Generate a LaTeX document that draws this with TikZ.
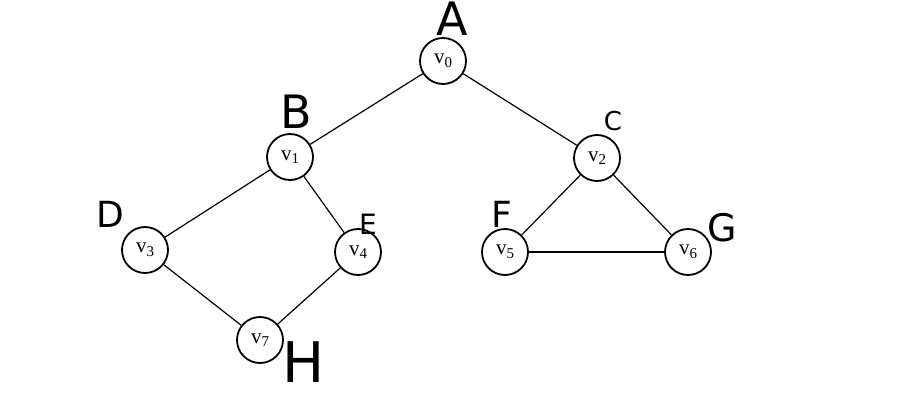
\documentclass[tikz,border=0pt]{standalone}
\usepackage{fontspec}
\setmainfont{Liberation Serif}
\newfontfamily\handfont{DejaVu Sans}
\newcommand{\vsub}[1]{v\raisebox{-3.5pt}{\fontsize{15}{15}\selectfont #1}}
\begin{document}
\begin{tikzpicture}[x=1pt,y=-1pt,
  vtx/.style={circle,draw,line width=1.8pt,minimum size=46pt,inner sep=0pt,font=\fontsize{21}{21}\selectfont},
  edge/.style={line width=1.2pt},
  hand/.style={font=\handfont\fontsize{#1}{#1}\selectfont,inner sep=0pt}]
\useasboundingbox (0,0) rectangle (904,404);
\node[vtx] (v0) at (443,61) {\vsub{0}};
\node[vtx] (v1) at (290,157) {\vsub{1}};
\node[vtx] (v2) at (597,158) {\vsub{2}};
\node[vtx] (v3) at (145,250) {\vsub{3}};
\node[vtx] (v4) at (358,252) {\vsub{4}};
\node[vtx] (v5) at (505,252) {\vsub{5}};
\node[vtx] (v6) at (688,252) {\vsub{6}};
\node[vtx] (v7) at (260,340) {\vsub{7}};
\draw[edge] (v0) -- (v1);
\draw[edge] (v0) -- (v2);
\draw[edge] (v1) -- (v3);
\draw[edge] (v1) -- (v4);
\draw[edge] (v3) -- (v7);
\draw[edge] (v4) -- (v7);
\draw[edge] (v2) -- (v5);
\draw[edge] (v2) -- (v6);
\draw[edge] (v5) -- (v6);
\node[hand=46] (la) at (452,19) {A};
\node[hand=46] (lb) at (296,112) {B};
\node[hand=26] (lc) at (613,121) {C};
\node[hand=36] (ld) at (110,214) {D};
\node[hand=28] (le) at (368,224) {E};
\node[hand=36] (lf) at (502,214) {F};
\node[hand=38] (lg) at (722,228) {G};
\node[hand=56] (lh) at (304,362) {H};
\end{tikzpicture}
\end{document}
